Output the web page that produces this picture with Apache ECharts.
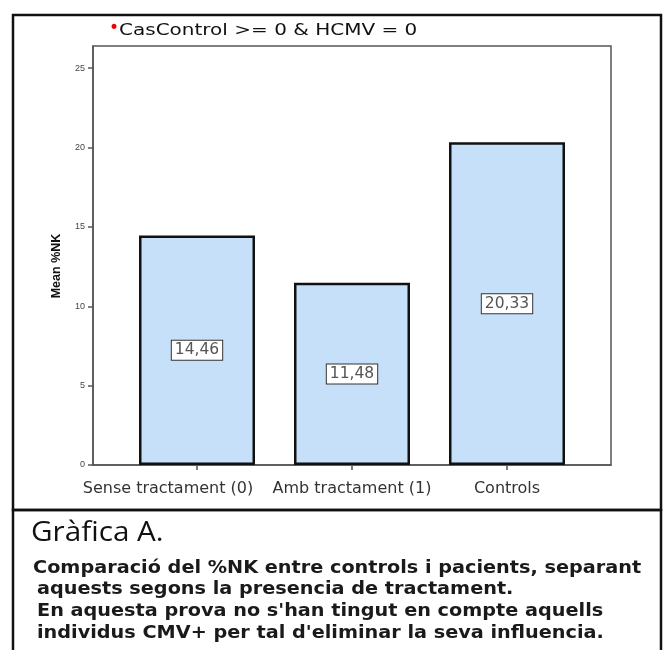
<!DOCTYPE html>
<html>
<head>
<meta charset="utf-8">
<script src="https://cdn.jsdelivr.net/npm/echarts@6/dist/echarts.min.js"></script>
<style>
  html, body { margin: 0; padding: 0; background: #fff; }
  #chart { width: 665px; height: 650px; }
</style>
</head>
<body>
<div id="chart"></div>
<script>
// data
const categories = ['Sense tractament (0)', 'Amb tractament (1)', 'Controls'];
const meanNK = [14.46, 11.48, 20.33];
const barLabels = ['14,46', '11,48', '20,33'];
const yTicks = [0, 5, 10, 15, 20, 25];
const yMax = 26.4;

const filterText = 'CasControl >= 0 & HCMV = 0';
const yName = 'Mean %NK';
const captionTitle = 'Gràfica A.';
const captionLines = [
  'Comparació del %NK entre controls i pacients, separant',
  'aquests segons la presencia de tractament.',
  'En aquesta prova no s\'han tingut en compte aquells',
  'individus CMV+ per tal d\'eliminar la seva influencia.'
];

const chart = echarts.init(document.getElementById('chart'));

const caption = [];
caption.push({
  type: 'text', x: 31, y: 533, scaleX: 1.06,
  style: { text: captionTitle, font: '28px "Open Sans", sans-serif', fill: '#111', verticalAlign: 'middle' }
});
captionLines.forEach((line, i) => {
  caption.push({
    type: 'text', x: i === 0 ? 33 : 37, y: 568 + i * 21.8, scaleX: 1.1,
    style: { text: line, font: 'bold 17.5px "DejaVu Sans", sans-serif', fill: '#1a1a1a', verticalAlign: 'middle' }
  });
});

const axisColor = '#555';
const labelFont = { color: '#333', fontSize: 16, fontFamily: 'DejaVu Sans' };

chart.setOption({
  animation: false,
  backgroundColor: '#fff',
  // grid 0: outer plot frame + y axis, grid 1: the bars (narrower than the frame)
  grid: [
    { left: 93, right: 54, top: 46, bottom: 185, show: true, borderColor: axisColor, borderWidth: 1.5 },
    { left: 119.5, right: 80.5, top: 46, bottom: 185 }
  ],
  xAxis: [
    {
      gridIndex: 0, type: 'value', min: 0, max: 1,
      splitLine: { show: false }, axisTick: { show: false }, axisLabel: { show: false },
      axisLine: { onZero: false, lineStyle: { color: axisColor, width: 1.5 } }
    },
    {
      gridIndex: 1, type: 'category', data: categories,
      axisLine: { show: false },
      axisTick: { show: true, alignWithLabel: true, length: 5, lineStyle: { color: axisColor, width: 1.5 } },
      axisLabel: Object.assign({
        margin: 16, interval: 0, hideOverlap: false,
        // first label is pushed left like in the original so it does not touch the second
        formatter: (v, i) => i === 0 ? '{first|' + v + '}' : v,
        rich: { first: Object.assign({ padding: [0, 58, 0, 0] }, labelFont) }
      }, labelFont)
    }
  ],
  yAxis: [
    {
      gridIndex: 0, type: 'value', min: 0, max: yMax,
      splitLine: { show: false },
      axisLine: { show: true, onZero: false, lineStyle: { color: axisColor, width: 1.5 } },
      axisTick: { show: true, customValues: yTicks, length: 5, lineStyle: { color: axisColor, width: 1.5 } },
      axisLabel: { customValues: yTicks, color: '#444', fontSize: 9, margin: 8, fontFamily: 'Liberation Sans' }
    },
    {
      gridIndex: 1, type: 'value', min: 0, max: yMax, show: false
    }
  ],
  series: [{
    type: 'bar',
    xAxisIndex: 1, yAxisIndex: 1,
    data: meanNK,
    barWidth: 116,
    itemStyle: { color: '#c6e0f9', borderColor: '#111', borderWidth: 2.5 },
    label: {
      show: true,
      position: 'inside',
      formatter: p => barLabels[p.dataIndex],
      color: '#555', fontSize: 15.5, fontFamily: 'DejaVu Sans',
      backgroundColor: '#fff', borderColor: '#333', borderWidth: 1,
      padding: [2, 3, 1, 3]
    }
  }],
  graphic: [
    { type: 'rect', shape: { x: 13, y: 15, width: 648, height: 495 }, style: { fill: 'none', stroke: '#111', lineWidth: 2.5 } },
    { type: 'rect', shape: { x: 13, y: 510, width: 648, height: 150 }, style: { fill: 'none', stroke: '#111', lineWidth: 2.5 } },
    {
      type: 'text', x: 109, y: 29,
      style: { text: '•', font: '17px "DejaVu Sans", sans-serif', fill: '#e00', verticalAlign: 'middle' }
    },
    {
      type: 'text', x: 119, y: 31, scaleX: 1.29,
      style: { text: filterText, font: '15.5px "DejaVu Sans", sans-serif', fill: '#111', verticalAlign: 'middle' }
    },
    {
      type: 'text', x: 57, y: 266, rotation: Math.PI / 2,
      style: { text: yName, font: 'bold 12.5px "Liberation Sans", sans-serif', fill: '#111', align: 'center', verticalAlign: 'middle' }
    }
  ].concat(caption)
});
</script>
</body>
</html>
